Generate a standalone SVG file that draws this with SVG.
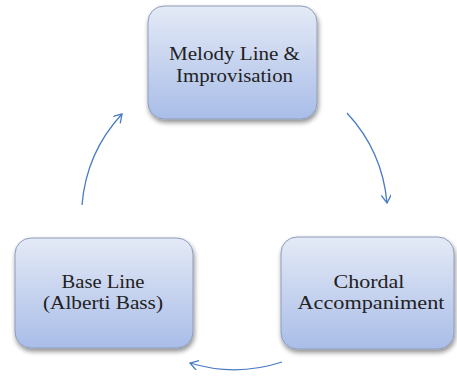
<svg xmlns="http://www.w3.org/2000/svg" width="457" height="376" viewBox="0 0 457 376">
<defs>
<linearGradient id="g" x1="0" y1="0" x2="0" y2="1">
<stop offset="0" stop-color="#e4eaf6"/>
<stop offset="1" stop-color="#a9bde8"/>
</linearGradient>
<filter id="sh" x="-20%" y="-20%" width="140%" height="140%">
<feGaussianBlur in="SourceAlpha" stdDeviation="2.5"/>
<feOffset dx="1" dy="3" result="b"/>
<feComponentTransfer><feFuncA type="linear" slope="0.45"/></feComponentTransfer>
<feMerge><feMergeNode/><feMergeNode in="SourceGraphic"/></feMerge>
</filter>
<marker id="ah" markerWidth="12" markerHeight="12" refX="9" refY="5" orient="auto" markerUnits="userSpaceOnUse">
<path d="M1,0 L9,5 L1,10" fill="none" stroke="#4a7cc4" stroke-width="1.3"/>
</marker>
</defs>
<style>
.box{fill:url(#g);stroke:#8d9cba;stroke-width:1;filter:url(#sh)}
.t{font-family:'Liberation Serif','Times New Roman',serif;font-size:19px;fill:#222;text-anchor:middle}
.c{fill:none;stroke:#4a7cc4;stroke-width:1.3;marker-end:url(#ah)}
</style>
<g id="connectors">
<path class="c" d="M82,205 A152,152 0 0 1 122,114"/>
<path class="c" d="M347,113 A152,152 0 0 1 387,203"/>
<path class="c" d="M282,362 A152,152 0 0 1 190,363"/>
</g>
<g id="melody">
<rect class="box" x="148" y="6" width="169" height="113" rx="16"/>
<text class="t" x="234.5" y="60" textLength="131" lengthAdjust="spacingAndGlyphs">Melody Line &amp;</text>
<text class="t" x="234.5" y="82" textLength="117" lengthAdjust="spacingAndGlyphs">Improvisation</text>
</g>
<g id="base">
<rect class="box" x="15" y="238" width="178" height="110" rx="16"/>
<text class="t" x="103" y="288" textLength="83" lengthAdjust="spacingAndGlyphs">Base Line</text>
<text class="t" x="103" y="309" textLength="120" lengthAdjust="spacingAndGlyphs">(Alberti Bass)</text>
</g>
<g id="chordal">
<rect class="box" x="281" y="237" width="173" height="112" rx="16"/>
<text class="t" x="369" y="288" textLength="71" lengthAdjust="spacingAndGlyphs">Chordal</text>
<text class="t" x="371" y="309" textLength="147" lengthAdjust="spacingAndGlyphs">Accompaniment</text>
</g>
</svg>
